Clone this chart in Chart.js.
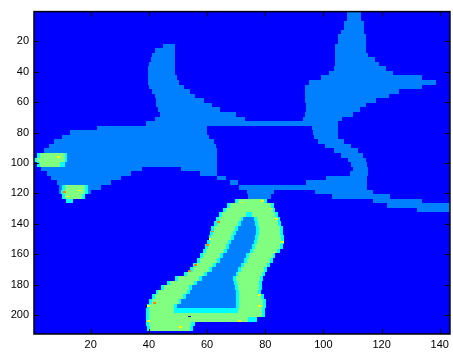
<!DOCTYPE html>
<html><head><meta charset="utf-8">
<script src="https://cdn.jsdelivr.net/npm/chart.js@4/dist/chart.umd.min.js"></script>
<style>html,body{margin:0;padding:0;background:#fff}</style>
</head><body>
<canvas id="c" width="453" height="353"></canvas>
<script>
// Tick labels
const xTicks = [20, 40, 60, 80, 100, 120, 140];
const yTicks = [20, 40, 60, 80, 100, 120, 140, 160, 180, 200];
// Image size (columns x rows)
const nCols = 143;
const nRows = 212;
// Value levels of the image (jet colormap levels)
const levelColors = ['#0000ff', '#0080ff', '#80ff80', '#00ffff', '#ffff00', '#ff8000', '#0000c0'];
const backgroundLevel = 0;
// Each band covers 3 image rows; entries are runs "xStart-xEnd:level"
const bandRows = 3;
const bands = [
  "108-113:1",
  "108-113:1",
  "107-114:1",
  "107-114:1",
  "106-114:1",
  "105-114.5:1",
  "105-114.5:1",
  "104-114.5:1 45-49:1",
  "104-114.6:1 42-49:1",
  "104-115.4:1 41-49:1",
  "104-117.7:1 40.6-49:1",
  "104-119:1 40-49:1",
  "103.5-121.5:1 39.7-49:1",
  "102-124:1 39.7-49:1",
  "99-134:1 39.7-49.5:1",
  "95-138.8:1 39.7-50.5:1",
  "93.7-134:1 40-52:1",
  "93.7-126:1 41-54:1",
  "93.7-122.5:1 42-56:1",
  "93.7-118:1 42.6-59:1",
  "94-114.5:1 42.6-61.8:1",
  "94-112.5:1 43-64.5:1",
  "93.5-110.3:1 43.8-70:1",
  "42-73:1 93-106.5:1",
  "39-105:1",
  "22-60:1 96-105:1",
  "13-60:1 96.5-105:1",
  "10-60.5:1 96.6-105.1:1",
  "7.5-62.3:1 98-107:1",
  "5.7-63:1 100.5-109.5:1",
  "4-63.4:1 103.5-112:1",
  "2.5-63.4:1 106-113.7:1 1.5-12:3 2.5-11:2",
  "1-63.4:1 108.5-114.8:1 0.5-12:3 1.5-11.3:2",
  "2.5-63.4:1 109.5-115:1 1.5-11:3 2.5-9.5:2",
  "3-37.5:1 51-63.4:1 110-115.4:1",
  "4.8-34:1 57.5-63.4:1 109-115.3:1",
  "6.5-30.5:1 63.5-66.5:1 101-115:1",
  "8.5-27:1 68-70.5:1 94-115:1",
  "9-23.5:1 71-115:1 10-19:3 11-18:2",
  "9-20:1 73.7-83:1 97-117:1 9.7-19:3 10.5-18:2",
  "74-82:1 103-123:1 10-18:3 11-17:2",
  "117-134:1 11.5-14:3 69.5-80.5:3 70.5-79.5:2",
  "122-143.5:1 67-83:3 68-82:2",
  "132-143.5:1 65.5-83.5:3 66.5-82.5:2",
  "64-84.5:3 65-83.5:2 73.5-75.5:3",
  "63-85:3 64-84:2 71.5-77:3 72.5-76:1",
  "62.5-85.5:3 63.5-84.5:2 70.5-77.5:3 71.5-76.5:1",
  "61.5-86:3 62.5-85:2 69.7-77.9:3 70.7-76.9:1",
  "61-86.2:3 62-85.2:2 69-77.9:3 70-76.9:1",
  "60.5-86.5:3 61.5-85.5:2 68.1-77.6:3 69.1-76.6:1",
  "60-86.5:3 61-85.5:2 67.3-77.3:3 68.3-76.3:1",
  "59.3-86:3 60.3-85:2 66.5-76.5:3 67.5-75.5:1",
  "58.5-85:3 59.5-84:2 65.7-75.8:3 66.7-74.8:1",
  "57.5-83.5:3 58.5-82.5:2 64.5-74.4:3 65.5-73.4:1",
  "56.5-82.5:3 57.5-81.5:2 63.4-73.6:3 64.4-72.6:1",
  "55.3-81.5:3 56.3-80.5:2 62.1-72.6:3 63.1-71.6:1",
  "54.2-80.7:3 55.2-79.7:2 60.6-71.6:3 61.6-70.6:1",
  "52-80:3 53-79:2 59-70.8:3 60-69.8:1",
  "49-79.2:3 50-78.2:2 57.3-70:3 58.3-69:1",
  "46.3-79:3 47.3-78:2 55.5-70.2:3 56.5-69.2:1",
  "44.2-78.8:3 45.2-77.8:2 53.9-70.7:3 54.9-69.7:1",
  "42.3-78.6:3 43.3-77.6:2 53.1-71.1:3 54.1-70.1:1",
  "41-79.5:3 42-78.5:2 51.8-71.1:3 52.8-70.1:1",
  "40-80.3:3 41-79.3:2 50.2-71.1:3 51.2-70.1:1",
  "39.5-80.1:3 40.5-79.1:2 48.8-71.1:3 49.8-70.1:1",
  "39-80:3 40-79:2 48.5-70.5:3",
  "39-80:3 40-79:2",
  "39-77:3 40-74:2",
  "39-56:3 40-54.5:2",
  "39.5-55:3 40.5-54:2",
  ""
];
// Single image cells: [column, row, level]
const dotCols = [9, 11, 12, 16, 64, 62, 60, 61, 56, 54, 42, 40, 40, 84, 86, 83, 78, 78, 72, 79, 82, 71, 51, 54];
const dotRows = [96, 119, 122, 118, 139, 145, 154, 150, 167, 171, 192, 194, 204, 137, 152, 159, 187, 194, 126, 125, 130, 204, 208, 201];
const dotLevels = [4, 5, 4, 4, 5, 5, 5, 4, 5, 5, 5, 4, 4, 4, 4, 4, 4, 4, 4, 4, 4, 4, 4, 6];

function parseRuns(s) {
  return s.trim() === '' ? [] : s.trim().split(/\s+/).map(t => {
    const [range, lev] = t.split(':');
    const [a, b] = range.split('-').map(Number);
    return {x0: a, x1: b, level: Number(lev)};
  });
}

const imagePlugin = {
  id: 'imagePlugin',
  beforeDatasetsDraw(chart) {
    const {ctx, scales: {x, y}} = chart;
    const rect = (x0, x1, y0, y1, level) => {
      const px0 = Math.round(x.getPixelForValue(x0));
      const px1 = Math.round(x.getPixelForValue(x1));
      const py0 = Math.round(y.getPixelForValue(y0));
      const py1 = Math.round(y.getPixelForValue(y1));
      ctx.fillStyle = levelColors[level];
      ctx.fillRect(Math.min(px0, px1), Math.min(py0, py1), Math.abs(px1 - px0), Math.abs(py1 - py0));
    };
    ctx.save();
    rect(0.5, nCols + 0.5, 0.5, nRows + 0.5, backgroundLevel);
    bands.forEach((s, i) => {
      const r0 = 0.5 + i * bandRows;
      const r1 = Math.min(r0 + bandRows, nRows + 0.5);
      parseRuns(s).forEach(run => rect(Math.max(run.x0, 0.5), Math.min(run.x1, nCols + 0.5), r0, r1, run.level));
    });
    dotCols.forEach((c, i) => rect(c - 0.5, c + 0.5, dotRows[i] - 0.5, dotRows[i] + 0.5, dotLevels[i]));
    ctx.restore();
  },
  afterDatasetsDraw(chart) {
    const {ctx, chartArea: a, scales: {x, y}} = chart;
    ctx.save();
    ctx.strokeStyle = '#000';
    ctx.lineWidth = 1;
    const tl = 5;
    ctx.beginPath();
    xTicks.forEach(v => {
      const px = Math.round(x.getPixelForValue(v)) + 0.5;
      ctx.moveTo(px, a.bottom); ctx.lineTo(px, a.bottom - tl);
      ctx.moveTo(px, a.top); ctx.lineTo(px, a.top + tl);
    });
    yTicks.forEach(v => {
      const py = Math.round(y.getPixelForValue(v)) + 0.5;
      ctx.moveTo(a.left, py); ctx.lineTo(a.left + tl, py);
      ctx.moveTo(a.right, py); ctx.lineTo(a.right - tl, py);
    });
    ctx.stroke();
    ctx.lineWidth = 1.5;
    ctx.strokeRect(a.left, a.top, a.right - a.left, a.bottom - a.top);
    ctx.restore();
  }
};

const tickFont = {family: 'Liberation Sans, Arial, sans-serif', size: 11};
new Chart(document.getElementById('c'), {
  type: 'scatter',
  data: {datasets: [{data: []}]},
  options: {
    responsive: false,
    animation: false,
    events: [],
    layout: {padding: {left: 0, top: 4, right: 2, bottom: 0}},
    plugins: {legend: {display: false}, tooltip: {enabled: false}},
    scales: {
      x: {
        type: 'linear', position: 'bottom', min: 0.5, max: nCols + 0.5,
        grid: {display: false, drawTicks: false}, border: {display: false},
        ticks: {font: tickFont, color: '#000', padding: 4, maxRotation: 0, autoSkip: false},
        afterBuildTicks: s => { s.ticks = xTicks.map(v => ({value: v})); },
        afterFit: s => { s.height = 19; }
      },
      y: {
        type: 'linear', reverse: true, min: 0.5, max: nRows + 0.5,
        grid: {display: false, drawTicks: false}, border: {display: false},
        ticks: {font: tickFont, color: '#000', padding: 5, autoSkip: false},
        afterBuildTicks: s => { s.ticks = yTicks.map(v => ({value: v})); },
        afterFit: s => { s.width = 34; }
      }
    }
  },
  plugins: [imagePlugin]
});
</script>
</body></html>
